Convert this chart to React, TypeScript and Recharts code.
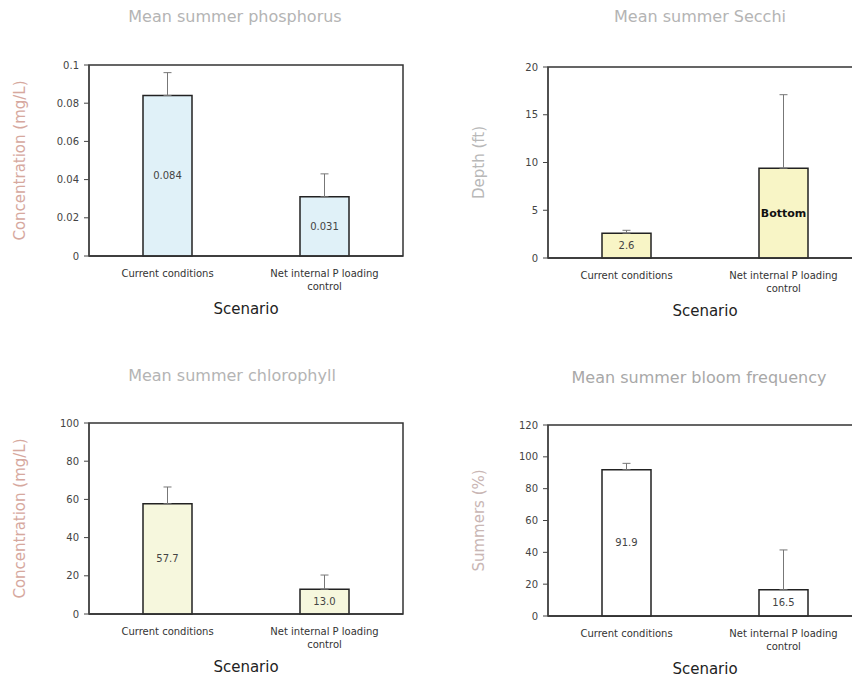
import React from 'react';
import { BarChart, Bar, XAxis, YAxis, ErrorBar, LabelList, ReferenceArea } from 'recharts';

const scenarios = ['Current conditions', 'Net internal P loading control'];

const phosMean = [0.084, 0.031];
const phosErr = [0.012, 0.012];
const phosLabels = ['0.084', '0.031'];
const phosTicks = [0, 0.02, 0.04, 0.06, 0.08, 0.1];

const secchiMean = [2.6, 9.4];
const secchiErr = [0.3, 7.7];
const secchiLabels = ['2.6', 'Bottom'];
const secchiTicks = [0, 5, 10, 15, 20];

const chlMean = [57.7, 13.0];
const chlErr = [8.8, 7.4];
const chlLabels = ['57.7', '13.0'];
const chlTicks = [0, 20, 40, 60, 80, 100];

const bloomMean = [91.9, 16.5];
const bloomErr = [4, 25];
const bloomLabels = ['91.9', '16.5'];
const bloomTicks = [0, 20, 40, 60, 80, 100, 120];

const FONT = '"DejaVu Sans", Verdana, sans-serif';
const PLOT_W = 314;
const PLOT_H = 191;
const AXIS_W = 89;
const TOP = 25;
const RIGHT = 17;
const XAXIS_H = 74;

// greedy word wrap by character count
const wrap = (s: string, max: number) => {
  const lines: string[] = [];
  let cur = '';
  s.split(' ').forEach((w) => {
    const next = cur ? cur + ' ' + w : w;
    if (next.length > max && cur) {
      lines.push(cur);
      cur = w;
    } else {
      cur = next;
    }
  });
  if (cur) lines.push(cur);
  return lines;
};

const CategoryTick = (props: any) => {
  const { x, y, payload } = props;
  const lines = wrap(String(payload.value), 22);
  return (
    <text x={x} y={y + 21} textAnchor="middle" fontSize={10} fill="#333" style={{ fontFamily: FONT }}>
      {lines.map((l, i) => (
        <tspan key={i} x={x} dy={i === 0 ? 0 : 13}>
          {l}
        </tspan>
      ))}
    </text>
  );
};

const BarLabel = (props: any) => {
  const { x, y, width, height, value } = props;
  const bold = value === 'Bottom';
  return (
    <text
      x={x + width / 2}
      y={y + height / 2}
      dy="0.35em"
      textAnchor="middle"
      fontSize={bold ? 11 : 10}
      fontWeight={bold ? 'bold' : 'normal'}
      fill={bold ? '#111' : '#444'}
      style={{ fontFamily: FONT }}
    >
      {value}
    </text>
  );
};

interface PanelProps {
  left: number;
  top: number;
  title: string;
  titleX: number;
  titleY: number;
  titleColor: string;
  yLabel: string;
  yLabelColor: string;
  means: number[];
  errs: number[];
  labels: string[];
  ticks: number[];
  fill: string;
}

const Panel: React.FC<PanelProps> = (p) => {
  const rows = scenarios.map((name, i) => ({
    name,
    mean: p.means[i],
    err: [0, p.errs[i]],
    label: p.labels[i],
  }));
  const max = p.ticks[p.ticks.length - 1];
  return (
    <>
      <div
        style={{
          position: 'absolute',
          left: p.titleX - 200,
          top: p.titleY - 10,
          width: 400,
          height: 20,
          lineHeight: '20px',
          textAlign: 'center',
          fontSize: 16,
          color: p.titleColor,
        }}
      >
        {p.title}
      </div>
      <div style={{ position: 'absolute', left: p.left - AXIS_W, top: p.top - TOP }}>
        <BarChart
          width={AXIS_W + PLOT_W + RIGHT}
          height={TOP + PLOT_H + XAXIS_H}
          data={rows}
          margin={{ top: TOP, right: RIGHT, bottom: 0, left: 0 }}
        >
          <XAxis
            dataKey="name"
            height={XAXIS_H}
            interval={0}
            tickLine={false}
            tickSize={0}
            tickMargin={0}
            axisLine={{ stroke: '#333', strokeWidth: 1.5 }}
            tick={<CategoryTick />}
            label={{
              value: 'Scenario',
              position: 'insideBottom',
              offset: 16,
              fontSize: 15,
              fill: '#222',
              style: { fontFamily: FONT },
            }}
          />
          <YAxis
            width={AXIS_W}
            domain={[0, max]}
            ticks={p.ticks}
            interval={0}
            tickSize={5}
            tickMargin={5}
            tickLine={{ stroke: '#444' }}
            axisLine={{ stroke: '#444', strokeWidth: 1.2 }}
            tick={{ fontSize: 10, fill: '#444', fontFamily: FONT }}
            label={{
              value: p.yLabel,
              angle: -90,
              position: 'insideLeft',
              offset: 20,
              fontSize: 15,
              fill: p.yLabelColor,
              style: { textAnchor: 'middle', fontFamily: FONT },
            }}
          />
          <ReferenceArea
            x1={scenarios[0]}
            x2={scenarios[1]}
            y1={0}
            y2={max}
            fill="none"
            stroke="#333"
            strokeWidth={1.5}
          />
          <Bar
            dataKey="mean"
            fill={p.fill}
            stroke="#222"
            strokeWidth={1.5}
            barSize={49}
            isAnimationActive={false}
          >
            <ErrorBar dataKey="err" direction="y" width={4} stroke="#777" strokeWidth={1} />
            <LabelList dataKey="label" content={<BarLabel />} />
          </Bar>
        </BarChart>
      </div>
    </>
  );
};

export default function App() {
  return (
    <div
      style={{
        position: 'absolute',
        left: 0,
        top: 0,
        width: 852,
        height: 681,
        overflow: 'hidden',
        background: '#fff',
        fontFamily: FONT,
      }}
    >
      <Panel
        left={89}
        top={65}
        title="Mean summer phosphorus"
        titleX={235}
        titleY={17}
        titleColor="#b4b4b4"
        yLabel="Concentration (mg/L)"
        yLabelColor="#d6a89e"
        means={phosMean}
        errs={phosErr}
        labels={phosLabels}
        ticks={phosTicks}
        fill="#e0f1f8"
      />
      <Panel
        left={548}
        top={67}
        title="Mean summer Secchi"
        titleX={700}
        titleY={17}
        titleColor="#b4b4b4"
        yLabel="Depth (ft)"
        yLabelColor="#b8b8b8"
        means={secchiMean}
        errs={secchiErr}
        labels={secchiLabels}
        ticks={secchiTicks}
        fill="#f8f5c6"
      />
      <Panel
        left={89}
        top={423}
        title="Mean summer chlorophyll"
        titleX={232}
        titleY={376}
        titleColor="#b4b4b4"
        yLabel="Concentration (mg/L)"
        yLabelColor="#d6a89e"
        means={chlMean}
        errs={chlErr}
        labels={chlLabels}
        ticks={chlTicks}
        fill="#f6f7dd"
      />
      <Panel
        left={548}
        top={425}
        title="Mean summer bloom frequency"
        titleX={699}
        titleY={378}
        titleColor="#a8a8a8"
        yLabel="Summers (%)"
        yLabelColor="#c9b6b4"
        means={bloomMean}
        errs={bloomErr}
        labels={bloomLabels}
        ticks={bloomTicks}
        fill="#ffffff"
      />
    </div>
  );
}
